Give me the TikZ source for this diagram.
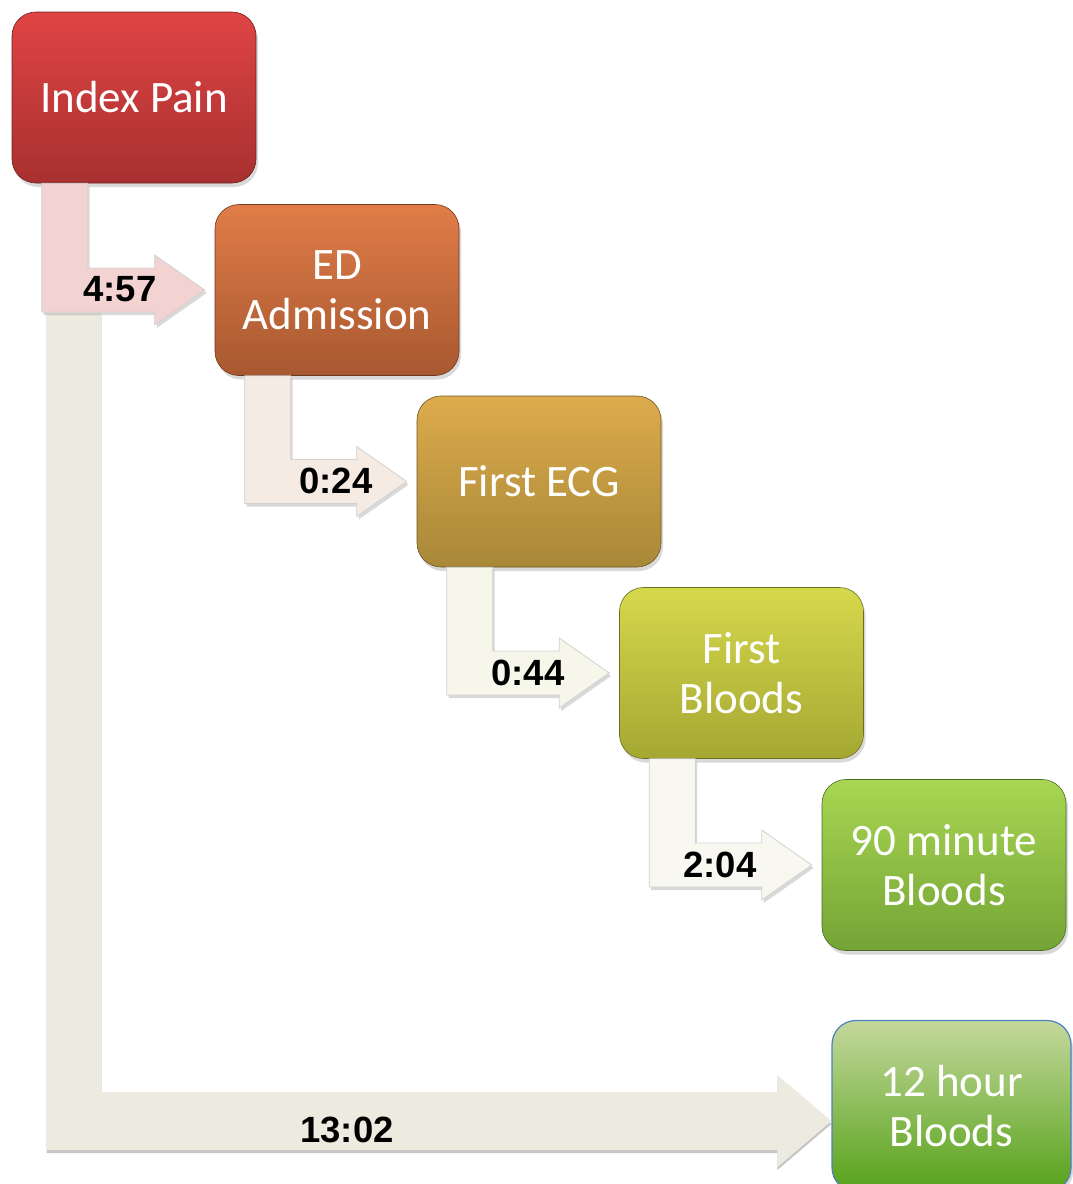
\documentclass[tikz,border=0pt]{standalone}
\usepackage{fontspec}
\setmainfont{Carlito}
\newfontfamily\labfont{Liberation Sans}
\usetikzlibrary{calc,shadows}
\definecolor{rTop}{HTML}{E04444}\definecolor{rBot}{HTML}{A83030}
\definecolor{oTop}{HTML}{E07D48}\definecolor{oBot}{HTML}{A85830}
\definecolor{yTop}{HTML}{DDAB4C}\definecolor{yBot}{HTML}{A88838}
\definecolor{lTop}{HTML}{D6D84C}\definecolor{lBot}{HTML}{A4A832}
\definecolor{gTop}{HTML}{A9D652}\definecolor{gBot}{HTML}{74A436}
\definecolor{hTop}{HTML}{C4D89C}\definecolor{hBot}{HTML}{56A21A}
\definecolor{hBorder}{HTML}{4F7FBE}
\definecolor{aOne}{HTML}{F3D3D2}\definecolor{aTwo}{HTML}{F6EBE3}
\definecolor{aThree}{HTML}{F6F6EA}\definecolor{aFour}{HTML}{F8F8F1}
\definecolor{aBig}{HTML}{EDEBE0}
\tikzset{
  box/.style={rounded corners=24pt, minimum width=244pt, minimum height=171pt,
    inner sep=0pt, align=center, text=white, font=\fontsize{45}{50}\selectfont,
    draw=black!35!#1, line width=0.6pt,
    drop shadow={opacity=0.3, shadow xshift=2pt, shadow yshift=-4pt}},
  arrowbody/.style={fill=#1, draw=black!18, line width=0.8pt,
    drop shadow={opacity=0.3, shadow xshift=2pt, shadow yshift=-3pt}},
  timelabel/.style={font=\labfont\bfseries\fontsize{36.5}{40}\selectfont, text=black, inner sep=0pt}
}
\newcommand\bentarrow[4]{%
  \coordinate (#4l) at ($(#1.south west)+(30,0)$);
  \coordinate (#4r) at ($(#1.south west)+(76,0)$);
  \coordinate (#4t) at ($(#2.west)+(-10,0)$);
  \coordinate (#4st) at ($(#4t)+(-50,-22)$);
  \coordinate (#4sb) at ($(#4t)+(-50,22)$);
  \coordinate (#4hT) at ($(#4t)+(-50,-35)$);
  \coordinate (#4hB) at ($(#4t)+(-50,35)$);
  \path[arrowbody=#3] (#4l) -- (#4r) -- (#4r |- #4st) -- (#4st) -- (#4hT) -- (#4t)
     -- (#4hB) -- (#4sb) -- (#4l |- #4sb) -- cycle;
}
\begin{document}
\begin{tikzpicture}[x=1pt,y=-1pt]
\useasboundingbox (0,0) rectangle (1072,1184);
% boxes
\node[box=rBot, top color=rTop, bottom color=rBot] (a) at (134,97.5) {Index Pain};
\node[box=oBot, top color=oTop, bottom color=oBot] (b) at (337,290) {ED\\Admission};
\node[box=yBot, top color=yTop, bottom color=yBot] (c) at (539,481.5) {First ECG};
\node[box=lBot, top color=lTop, bottom color=lBot] (d) at (741.5,673) {First\\Bloods};
\node[box=gBot, top color=gTop, bottom color=gBot] (e) at (944,865) {90 minute\\Bloods};
\node[box=hBot, top color=hTop, bottom color=hBot, draw=hBorder, line width=1.2pt,
      minimum width=239pt] (f) at (951.5,1106) {12 hour\\Bloods};
% big arrow
\coordinate (zl) at ($(a.south west)+(35,130)$);
\coordinate (zr) at ($(a.south west)+(90,130)$);
\coordinate (zt) at ($(f.west)+(0,15)$);
\coordinate (zst) at ($(zt)+(-54,-29)$);
\coordinate (zsb) at ($(zt)+(-54,29)$);
\coordinate (zhT) at ($(zt)+(-54,-46)$);
\coordinate (zhB) at ($(zt)+(-54,46)$);
\path[fill=aBig, drop shadow={opacity=0.45, shadow xshift=0pt, shadow yshift=-3pt}]
  (zl) -- (zr) -- (zr |- zst) -- (zst) -- (zhT) -- (zt) -- (zhB) -- (zsb) -- (zl |- zsb) -- cycle;
% bent arrows
\bentarrow{a}{b}{aOne}{p}
\bentarrow{b}{c}{aTwo}{q}
\bentarrow{c}{d}{aThree}{s}
\bentarrow{d}{e}{aFour}{u}
% labels
\node[timelabel] (l1) at (120,289) {4:57};
\node[timelabel] (l2) at (336,481) {0:24};
\node[timelabel] (l3) at (528,673) {0:44};
\node[timelabel] (l4) at (720,865) {2:04};
\node[timelabel] (l5) at (347,1130) {13:02};
\end{tikzpicture}
\end{document}
